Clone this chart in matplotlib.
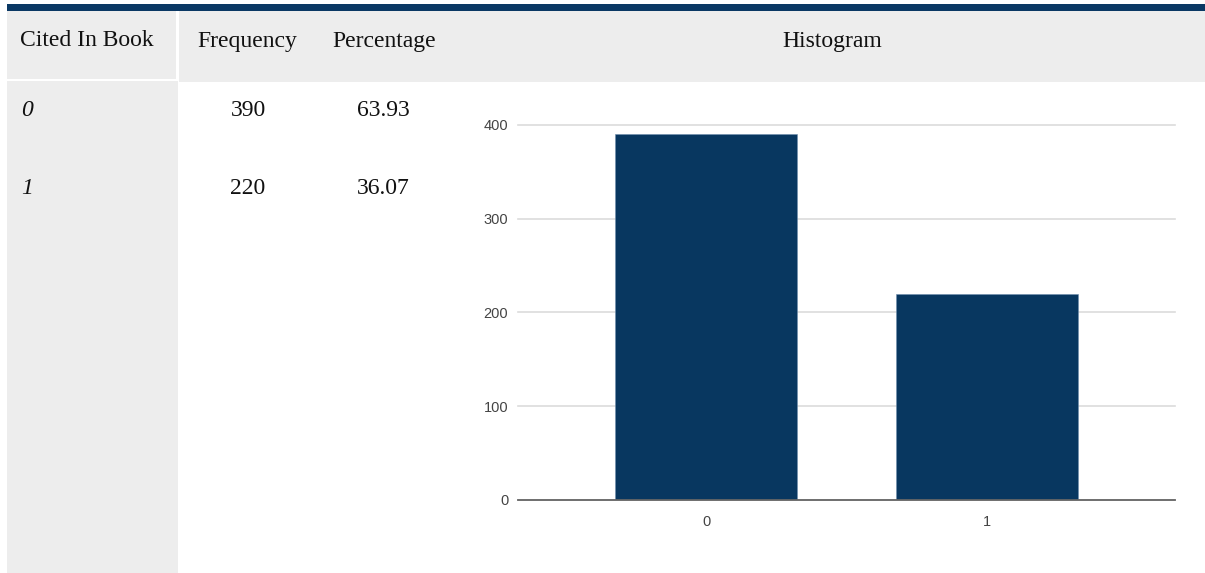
import matplotlib
matplotlib.use("Agg")
import matplotlib.pyplot as plt
from matplotlib.patches import Rectangle

# table data
col_headers = ["Cited In Book", "Frequency", "Percentage"]
chart_title = "Histogram"
categories = ["0", "1"]
frequency = [390, 220]
percentage = ["63.93", "36.07"]
y_ticks = [0, 100, 200, 300, 400]

W, H = 1205, 573
NAVY = "#0a3864"
BAR = "#083760"
GREY = "#ededed"

fig = plt.figure(figsize=(W / 100, H / 100), dpi=100)
bg = fig.add_axes([0, 0, 1, 1])
bg.set_xlim(0, W)
bg.set_ylim(H, 0)
bg.axis("off")


def box(x0, y0, x1, y1, color):
    bg.add_patch(Rectangle((x0, y0), x1 - x0, y1 - y0, color=color, lw=0))


# header band, top rule and first-column shading
box(7, 4, W, 11, NAVY)
box(179, 11, W, 82, GREY)
box(7, 11, 176, 79, GREY)
box(7, 81, 178, 573, GREY)

serif = ["Liberation Serif", "DejaVu Serif"]
hdr_x = [20, 247, 384]
hdr_ha = ["left", "center", "center"]
for txt, x, ha in zip(col_headers, hdr_x, hdr_ha):
    bg.text(x, 41, txt, ha=ha, va="center", family=serif, fontsize=17, color="#111111")
bg.text(832, 41, chart_title, ha="center", va="center", family=serif, fontsize=17, color="#111111")

row_y = [110, 188]
for y, cat, f, p in zip(row_y, categories, frequency, percentage):
    bg.text(21, y, cat, ha="left", va="center", family=serif, style="italic", fontsize=17, color="#111111")
    bg.text(248, y, str(f), ha="center", va="center", family=serif, fontsize=17, color="#111111")
    bg.text(383, y, p, ha="center", va="center", family=serif, fontsize=17, color="#111111")

# histogram
ax = fig.add_axes([518 / W, (H - 499.7) / H, (1175 - 518) / W, (499.7 - 125) / H])
x = list(range(len(categories)))
ax.bar(x, frequency, width=0.65, color=BAR, edgecolor="#6f8fae", linewidth=0.4, zorder=3)
ax.set_xlim(-0.67, 1.67)
ax.set_ylim(0, 400)
ax.set_yticks(y_ticks)
ax.set_xticks(x)
ax.set_xticklabels(categories)
ax.grid(axis="y", color="#dcdcdc", linewidth=1.2, zorder=0)
for gl in ax.get_ygridlines():
    gl.set_clip_on(False)
for s in ["top", "right", "left"]:
    ax.spines[s].set_visible(False)
ax.spines["bottom"].set_color("#666666")
ax.spines["bottom"].set_linewidth(1.3)
ax.spines["bottom"].set_zorder(4)
ax.tick_params(length=0, labelsize=10.5, labelcolor="#444444")
ax.tick_params(axis="y", pad=7)
ax.tick_params(axis="x", pad=11)
for lab in ax.get_xticklabels() + ax.get_yticklabels():
    lab.set_family(["Liberation Sans", "DejaVu Sans"])
ax.set_facecolor("none")

fig.savefig("out.png", dpi=100)
